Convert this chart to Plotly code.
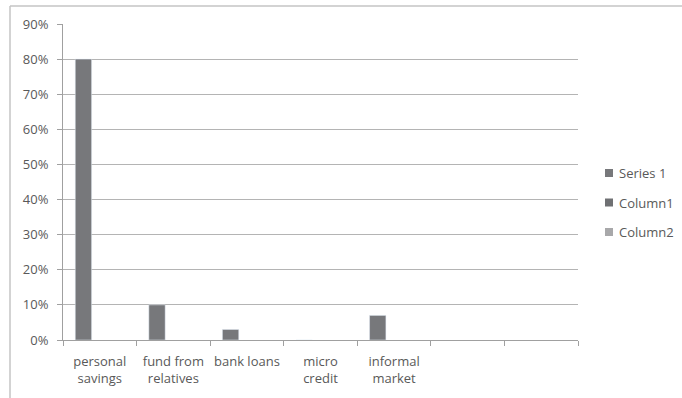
import plotly.graph_objects as go

# Funding sources (two trailing empty slots keep the category layout)
categories = ["personal<br>savings", "fund from<br>relatives", "bank loans",
              "micro<br>credit", "informal<br>market", " ", "  "]
series_1 = [0.80, 0.10, 0.03, 0.0, 0.07, None, None]
column_1 = [None] * 7
column_2 = [None] * 7
y_ticks = [0, 0.1, 0.2, 0.3, 0.4, 0.5, 0.6, 0.7, 0.8, 0.9]

series_names = ["Series 1", "Column1", "Column2"]
series_colors = ["#77787b", "#6f7073", "#a8a8aa"]

W, H = 682, 398
L, R, T, B = 63, 104, 24, 58
pw, ph = W - L - R, H - T - B


def px_x(x):
    return (x - L) / pw


def px_y(y):
    return (H - B - y) / ph


font = dict(family="Open Sans, Liberation Sans, sans-serif", size=13, color="#595959")

fig = go.Figure()
for name, vals, color in zip(series_names, [series_1, column_1, column_2], series_colors):
    fig.add_trace(go.Bar(x=categories, y=vals, name=name, marker_color=color,
                         showlegend=False))

# Legend drawn as small swatches with labels to the right of the plot
shapes = [
    dict(type="line", xref="paper", yref="paper",
         x0=px_x(10), x1=px_x(W), y0=px_y(6), y1=px_y(6),
         line=dict(color="#c4c4c4", width=1.5)),
    dict(type="line", xref="paper", yref="paper",
         x0=px_x(10), x1=px_x(10), y0=px_y(6), y1=px_y(H),
         line=dict(color="#c4c4c4", width=1.5)),
]
annotations = []
row_y = [173, 202.5, 232]
for name, color, ry in zip(series_names, series_colors, row_y):
    shapes.append(dict(type="rect", xref="paper", yref="paper",
                       x0=px_x(605), x1=px_x(613), y0=px_y(ry + 4), y1=px_y(ry - 4),
                       fillcolor=color, line=dict(width=0)))
    annotations.append(dict(xref="paper", yref="paper", x=px_x(617), y=px_y(ry),
                            xanchor="left", yanchor="middle", showarrow=False,
                            text=name, font=dict(size=13, color="#595959")))

fig.update_layout(
    width=W, height=H,
    margin=dict(l=L, r=R, t=T, b=B, autoexpand=False),
    paper_bgcolor="white", plot_bgcolor="white",
    font=font,
    barmode="group", bargap=1 / 3, bargroupgap=0,
    showlegend=False,
    xaxis=dict(type="category", categoryorder="array", categoryarray=categories,
               showgrid=False, showline=True, linecolor="#a0a0a0", linewidth=1,
               ticks="outside", tickson="boundaries", ticklen=5, tickcolor="#a0a0a0",
               tickangle=0, automargin=False, ticklabelstandoff=9,
               tickfont=dict(size=13), fixedrange=True),
    yaxis=dict(range=[0, 0.9], tickvals=y_ticks, tickformat=".0%",
               showgrid=True, gridcolor="#b4b4b4", gridwidth=1,
               showline=True, linecolor="#a0a0a0", linewidth=1,
               ticks="outside", ticklen=5, tickcolor="#a0a0a0",
               ticklabelstandoff=6, zeroline=False, automargin=False,
               tickfont=dict(size=13), fixedrange=True),
    shapes=shapes,
    annotations=annotations,
)

fig.write_html("out.html")
